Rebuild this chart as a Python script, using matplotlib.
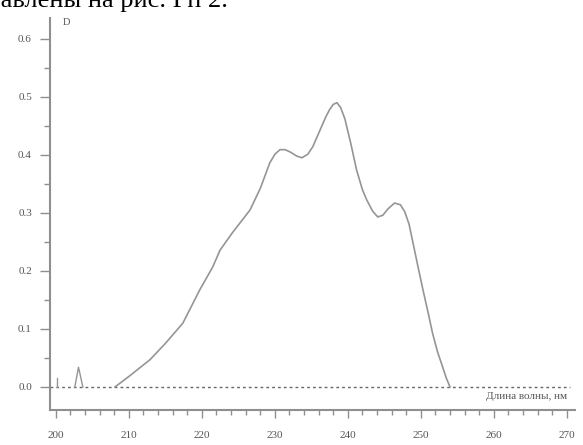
import numpy as np
import matplotlib
matplotlib.use("Agg")
from matplotlib import pyplot as plt
from matplotlib.ticker import MultipleLocator

# absorption spectrum, main band
wavelength = [208.1, 210.0, 212.9, 215.0, 217.4, 219.7, 221.5, 222.5, 224.2, 226.6,
              228.0, 229.3, 230.0, 230.7, 231.4, 232.1, 233.0, 233.7, 234.5, 235.2,
              236.2, 237.0, 237.5, 238.0, 238.5, 239.0, 239.6, 240.4, 241.2, 242.0,
              242.6, 243.4, 244.1, 244.8, 245.5, 246.4, 247.2, 247.8, 248.4, 248.9,
              249.6, 250.3, 251.0, 251.6, 252.3, 253.0, 253.5, 254.0]
absorbance = [0.0, 0.018, 0.047, 0.075, 0.110, 0.167, 0.207, 0.236, 0.266, 0.305,
              0.342, 0.386, 0.401, 0.409, 0.409, 0.405, 0.398, 0.395, 0.401, 0.414,
              0.443, 0.466, 0.478, 0.487, 0.490, 0.482, 0.462, 0.420, 0.374, 0.340,
              0.322, 0.303, 0.293, 0.296, 0.307, 0.317, 0.314, 0.302, 0.280, 0.250,
              0.208, 0.167, 0.128, 0.093, 0.060, 0.034, 0.015, 0.0]

# small artefacts near the start of the scan
spike_x = [202.6, 203.1, 203.7]
spike_y = [0.0, 0.034, 0.0]
tick_x = [200.2, 200.2]
tick_y = [0.0, 0.015]

line_col = "#959595"
axis_col = "#8f8f8f"
text_col = "#555555"

fig = plt.figure(figsize=(5.83, 4.45), dpi=100)
ax = fig.add_axes([0.0858, 0.0787, 0.9002, 0.8809])

ax.axhline(0, color="#666666", lw=1.0, ls=(0, (2, 2.2)), xmax=0.99)
ax.plot(wavelength, absorbance, color=line_col, lw=1.2)
ax.plot(spike_x, spike_y, color=line_col, lw=1.0)
ax.plot(tick_x, tick_y, color=line_col, lw=1.0)

ax.set_xlim(199.2, 271.1)
ax.set_ylim(-0.0397, 0.636)

for s in ["top", "right"]:
    ax.spines[s].set_visible(False)
for s in ["left", "bottom"]:
    ax.spines[s].set_color(axis_col)
    ax.spines[s].set_linewidth(1.5)

ax.xaxis.set_minor_locator(MultipleLocator(2))
ax.yaxis.set_minor_locator(MultipleLocator(0.05))
ax.set_xticks(np.arange(200, 271, 10))
ax.set_yticks(np.arange(0, 0.61, 0.1))
ax.set_yticklabels([f"{v:.1f}" for v in np.arange(0, 0.61, 0.1)])

ax.tick_params(axis="both", which="both", direction="out", colors=axis_col,
               labelcolor=text_col, labelsize=8, width=1.0)
ax.tick_params(axis="x", which="major", length=6, pad=9)
ax.tick_params(axis="x", which="minor", length=3.5)
ax.tick_params(axis="y", which="major", length=7, pad=6)
ax.tick_params(axis="y", which="minor", length=4)
for lbl in ax.get_xticklabels() + ax.get_yticklabels():
    lbl.set_family("Liberation Serif")

ax.text(0.024, 1.0, "D", transform=ax.transAxes, ha="left", va="top",
        fontsize=7.5, color=text_col, family="Liberation Serif")
ax.text(270.1, -0.017, "Длина волны, нм", ha="right", va="center",
        fontsize=8, color=text_col, family="Liberation Serif")

# line of document text cut off at the top edge
fig.text(-0.04, 0.972, "ставлены на рис. Рп 2.", ha="left", va="bottom",
         fontsize=19, color="black", family="Liberation Serif")

fig.savefig("out.png", dpi=100)
